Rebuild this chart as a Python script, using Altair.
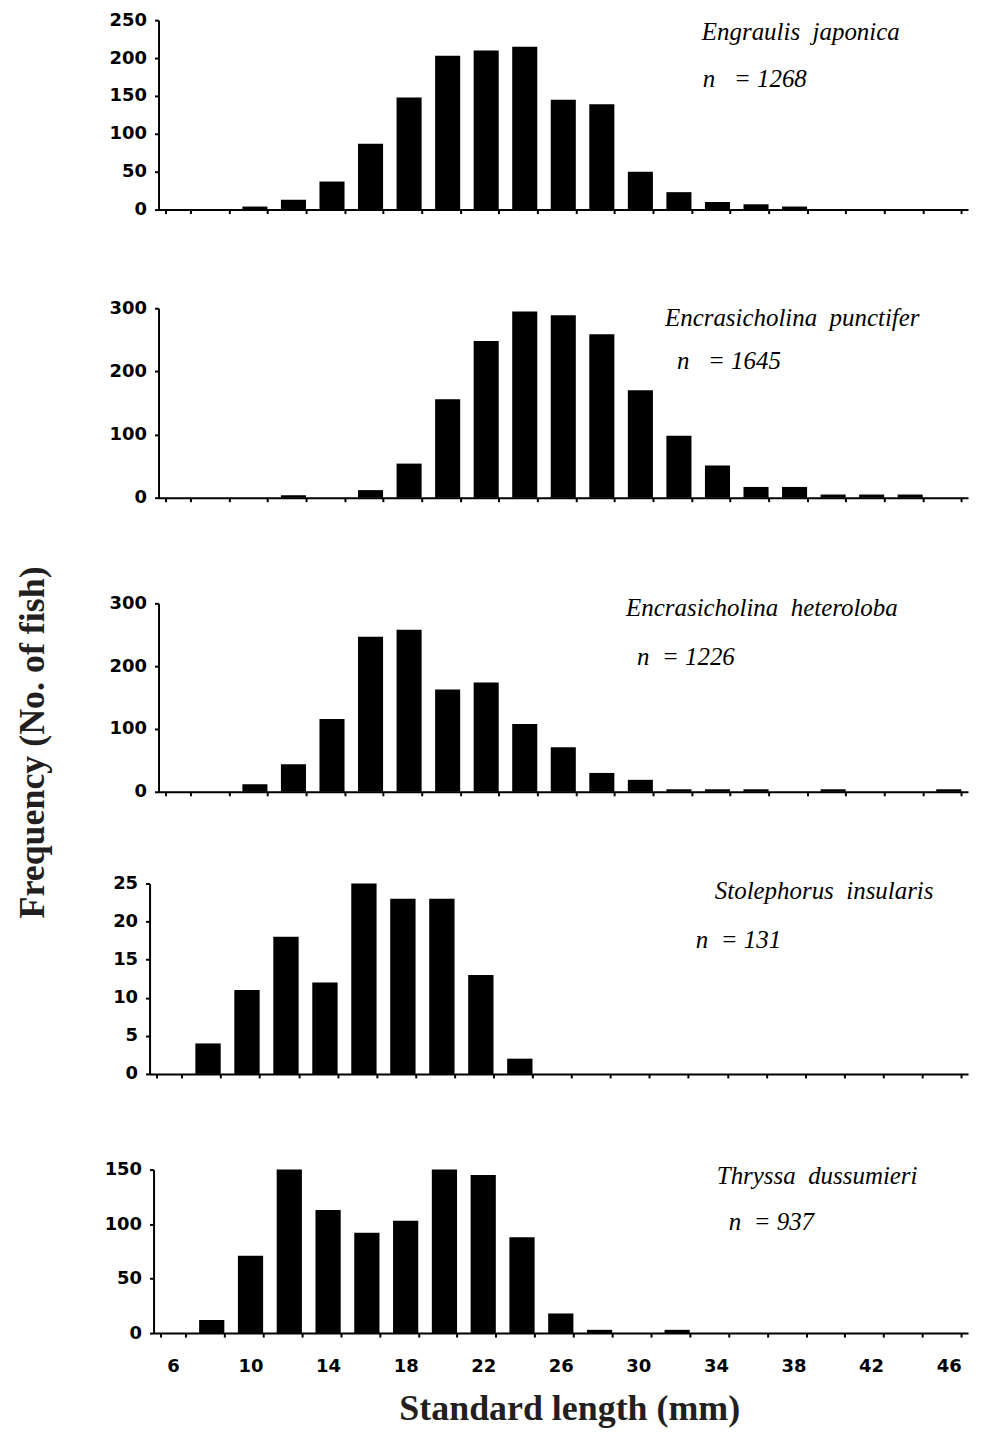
import altair as alt
import pandas as pd

# ---------------- data ----------------
lengths = list(range(6, 47, 2))  # standard length classes (mm)

japonica   = [0, 0, 4, 13, 37, 87, 148, 203, 210, 215, 145, 139, 50, 23, 10, 7, 4, 0, 0, 0, 0]
punctifer  = [0, 0, 0, 4, 0, 12, 54, 156, 248, 295, 289, 259, 170, 98, 51, 17, 17, 5, 5, 5, 0]
heteroloba = [0, 0, 12, 44, 116, 247, 258, 163, 174, 108, 71, 30, 19, 4, 4, 4, 0, 4, 0, 0, 4]
insularis  = [0, 4, 11, 18, 12, 25, 23, 23, 13, 2, 0, 0, 0, 0, 0, 0, 0, 0, 0, 0, 0]
dussumieri = [0, 12, 71, 150, 113, 92, 103, 150, 145, 88, 18, 3, 0, 3, 0, 0, 0, 0, 0, 0, 0]

series = [japonica, punctifer, heteroloba, insularis, dussumieri]
species = ["Engraulis\u00a0\u00a0japonica", "Encrasicholina\u00a0\u00a0punctifer",
           "Encrasicholina\u00a0\u00a0heteroloba", "Stolephorus\u00a0\u00a0insularis",
           "Thryssa\u00a0\u00a0dussumieri"]
n_labels = ["n\u00a0\u00a0\u00a0= 1268", "n\u00a0\u00a0\u00a0= 1645", "n\u00a0\u00a0= 1226",
            "n\u00a0\u00a0= 131", "n\u00a0\u00a0= 937"]
y_max = [250, 300, 300, 25, 150]
y_ticks = [[0, 50, 100, 150, 200, 250], [0, 100, 200, 300], [0, 100, 200, 300],
           [0, 5, 10, 15, 20, 25], [0, 50, 100, 150]]

# ---------------- layout ----------------
W = 812
slot_h = [190, 289, 295, 283, 260]
plot_h = [190, 190, 189, 191, 164]
x_shift = [0, 0, 0, 9, 5]
sp_pos = [(545, 20), (508, 117), (469, 119), (558, 108), (560, 110)]
n_pos = [(546, 67), (520, 160), (480, 168), (539, 157), (572, 157)]

TITLE_FONT = "Liberation Serif"
TITLE_COLOR = "#231f20"

panels = []
for i in range(5):
    df = pd.DataFrame({"length": lengths, "count": series[i]})
    H, h, s = slot_h[i], plot_h[i], x_shift[i]
    last = i == 4
    xaxis_kw = dict(tickBand="extent", labels=last, labelAngle=0,
                    labelPadding=21, title=None)
    if last:
        xaxis_kw.update(labelExpr="datum.value % 4 == 2 ? datum.label : ''",
                        title="Standard length (mm)", titleX=412, titleY=87,
                        titleBaseline="alphabetic", titleAlign="center",
                        titleFont=TITLE_FONT, titleFontSize=36, titleFontWeight="bold",
                        titleColor=TITLE_COLOR)
    yaxis_kw = dict(values=y_ticks[i], offset=s, labelPadding=8, title=None)
    if i == 2:
        yaxis_kw.update(title="Frequency (No. of fish)", titleX=-126, titleY=245,
                        titleAngle=270, titleBaseline="middle", titleAlign="center",
                        titleFont=TITLE_FONT, titleFontSize=36, titleFontWeight="bold",
                        titleColor=TITLE_COLOR)
    x = alt.X("length:O", sort=lengths,
              scale=alt.Scale(range=[-s, W], paddingInner=0.35, paddingOuter=0.175),
              axis=alt.Axis(**xaxis_kw))
    y = alt.Y("count:Q",
              scale=alt.Scale(domain=[0, y_max[i]], range=[H, H - h], nice=False, zero=True),
              axis=alt.Axis(**yaxis_kw))
    bars = alt.Chart(df).mark_bar(color="black").encode(x=x, y=y)
    txt_df = pd.DataFrame({"label": [species[i], n_labels[i]],
                           "px": [sp_pos[i][0], n_pos[i][0]],
                           "py": [sp_pos[i][1], n_pos[i][1]]})
    txt = alt.Chart(txt_df).mark_text(font="Liberation Serif", fontStyle="italic",
                                      fontSize=25, align="left", baseline="alphabetic",
                                      color="black").encode(
        x=alt.X("px:Q", scale=None), y=alt.Y("py:Q", scale=None), text="label:N")
    panels.append(alt.layer(bars, txt).properties(width=W, height=H))

chart = alt.vconcat(*panels, spacing=0, bounds="flush").properties(
    padding={"left": 7, "top": 1, "right": 0, "bottom": 0},
    autosize=alt.AutoSizeParams(type="pad")
).configure_view(stroke=None).configure_axis(
    labelFont="DejaVu Sans", labelFontWeight="bold", labelFontSize=18,
    labelColor="black", domainColor="black", tickColor="black",
    domainWidth=2, tickWidth=2, tickSize=4, grid=False
)

chart.save("out.html", embed_options={"renderer": "svg", "actions": False})
